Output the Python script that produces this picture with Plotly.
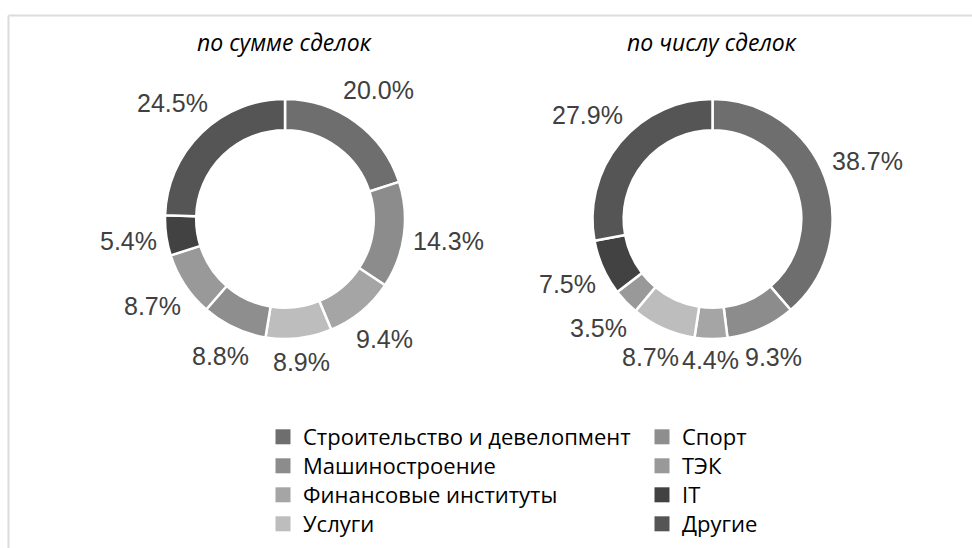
import math
import plotly.graph_objects as go

# Sector shares of deals, %
categories = [
    "Строительство и девелопмент",
    "Машиностроение",
    "Финансовые институты",
    "Услуги",
    "Спорт",
    "ТЭК",
    "IT",
    "Другие",
]
share_by_amount = [20.0, 14.3, 9.4, 8.9, 8.8, 8.7, 5.4, 24.5]
share_by_count = [38.7, 9.3, 4.4, 8.7, 0.0, 3.5, 7.5, 27.9]
titles = ["по сумме сделок", "по числу сделок"]

colors = ["#6e6e6e", "#8c8c8c", "#a5a5a5", "#bdbdbd",
          "#8e8e8e", "#999999", "#424242", "#555555"]

W, H = 972, 548
R_OUT = 120          # outer radius of each donut, px
LABEL_SIZE = 25
label_font = dict(family="Liberation Sans, Arial, sans-serif", size=LABEL_SIZE, color="#404040")
legend_font = dict(family="Open Sans, sans-serif", size=22, color="#000000")


def px_domain(cx, cy, r):
    return dict(x=[(cx - r) / W, (cx + r) / W], y=[1 - (cy + r) / H, 1 - (cy - r) / H])


def text_width(s, size):
    # Arial advance widths (em) for the characters used in the labels
    adv = {".": 0.278, "%": 0.889}
    return sum(adv.get(ch, 0.556) for ch in s) * size


fig = go.Figure()

centers = [(285, 219), (712.5, 219)]
for vals, (cx, cy) in zip([share_by_amount, share_by_count], centers):
    fig.add_trace(go.Pie(
        labels=categories,
        values=vals,
        textinfo="none",
        hole=0.74,
        sort=False,
        direction="clockwise",
        rotation=0,
        marker=dict(colors=colors, line=dict(color="white", width=2.5)),
        domain=px_domain(cx, cy, R_OUT),
        showlegend=False,
        hovertemplate="%{label}: %{value:.1f}%<extra></extra>",
    ))

    # Percentage labels just outside the ring, at each slice's mid-angle
    total = sum(vals)
    start = 0.0
    for v in vals:
        if v <= 0:
            continue
        mid = (start + v / 2) / total * 2 * math.pi
        start += v
        dx, dy = math.sin(mid), -math.cos(mid)
        txt = f"{v:.1f}%"
        w, h = text_width(txt, LABEL_SIZE), LABEL_SIZE
        reach = R_OUT + 8 + abs(dx) * w / 2 + abs(dy) * h / 2
        fig.add_annotation(
            text=txt, x=(cx + reach * dx) / W, y=1 - (cy + reach * dy) / H,
            xref="paper", yref="paper", showarrow=False,
            xanchor="center", yanchor="middle", font=label_font,
        )

# Legend entries: two columns of four rows, one legend box per entry
row_y0, row_step = 437, 29
col_x = [263, 642]
legend_boxes = {}
for i, (name, col) in enumerate(zip(categories, colors)):
    key = "legend" if i == 0 else f"legend{i + 1}"
    fig.add_trace(go.Scatter(
        x=[None], y=[None], mode="markers", name=name,
        marker=dict(symbol="square", size=15, color=col),
        legend=key, showlegend=True,
    ))
    legend_boxes[key] = dict(
        x=col_x[i // 4] / W, y=1 - (row_y0 + row_step * (i % 4)) / H,
        xanchor="left", yanchor="middle", orientation="v", font=legend_font,
        bgcolor="rgba(0,0,0,0)", itemclick=False, itemdoubleclick=False,
    )

for title, (cx, cy) in zip(titles, centers):
    fig.add_annotation(
        text=title, x=cx / W, y=1 - 42 / H, xref="paper", yref="paper",
        showarrow=False, xanchor="center", yanchor="middle",
        font=dict(family="Open Sans, sans-serif", size=23, color="#000000", style="italic"),
    )

# Thin frame along the top and left edges
frame = dict(color="#dcdcdc", width=2)
fig.add_shape(type="line", xref="paper", yref="paper",
              x0=8.5 / W, x1=1.0, y0=1 - 15.5 / H, y1=1 - 15.5 / H, line=frame)
fig.add_shape(type="line", xref="paper", yref="paper",
              x0=8.5 / W, x1=8.5 / W, y0=1 - 15.5 / H, y1=0, line=frame)

fig.update_layout(
    width=W, height=H,
    margin=dict(l=0, r=0, t=0, b=0),
    paper_bgcolor="white", plot_bgcolor="white",
    xaxis=dict(visible=False), yaxis=dict(visible=False),
    **legend_boxes,
)

fig.write_html("out.html", config={"displayModeBar": False})
